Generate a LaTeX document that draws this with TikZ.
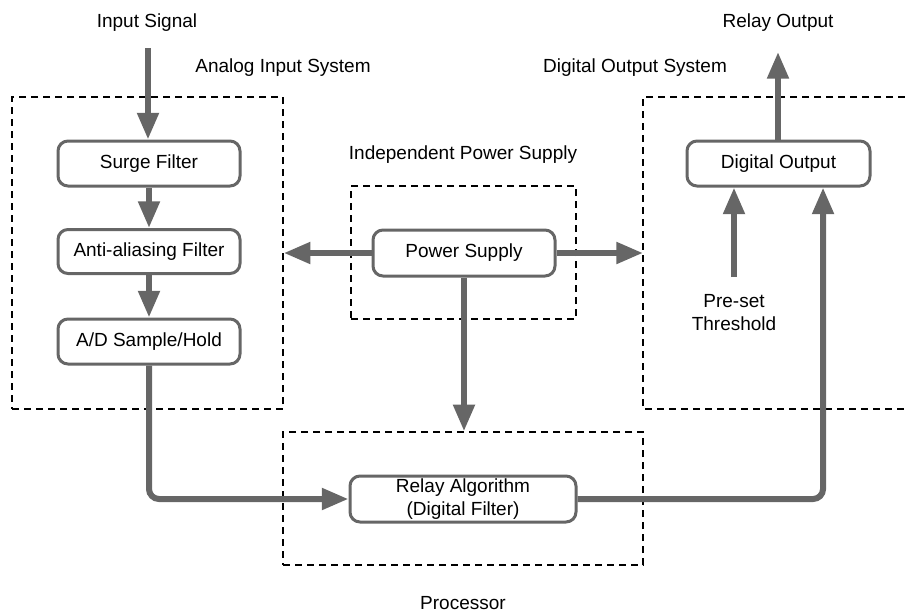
\documentclass[tikz,border=0pt]{standalone}
\usepackage{fontspec}
\setmainfont{Liberation Sans}
\usetikzlibrary{arrows.meta}
\definecolor{arrowgray}{HTML}{666666}
\begin{document}
\begin{tikzpicture}[x=0.75pt,y=-0.75pt,
  font=\fontsize{14.25}{17.25}\selectfont,
  blk/.style={draw=arrowgray, line width=2.25pt, rounded corners=7.5pt, fill=white,
    inner sep=0pt, align=center, minimum width=136.5pt, minimum height=33.75pt},
  dashbox/.style={draw=black, line width=1.1pt, dash pattern=on 5.25pt off 3.75pt,
    inner sep=0pt},
  arr/.style={draw=arrowgray, line width=4.5pt, -{Triangle[length=20pt,width=15.5pt]}},
  lbl/.style={inner sep=0pt, align=center}]
\useasboundingbox (0,0) rectangle (905,614);

% dashed group boxes
\node[dashbox, minimum width=203.25pt, minimum height=234pt] (analog) at (147.5,253) {};
\node[dashbox, minimum width=168.75pt, minimum height=99.75pt] (power) at (463.5,252.5) {};
\node[dashbox, minimum width=270pt, minimum height=99.75pt] (proc) at (463,498.5) {};
\coordinate (digtl) at (643,97);
\coordinate (digbl) at (643,409);
\coordinate (digtr) at (905,97);
\coordinate (digbr) at (905,409);
\draw[line width=1.1pt, dash pattern=on 5.25pt off 3.75pt] (digtr) -- (digtl) -- (digbl) -- (digbr);

% labels
\node[lbl] (insig) at (147,23) {Input Signal};
\node[lbl] (relout) at (778,23) {Relay Output};
\node[lbl] (anlbl) at (283,68) {Analog Input System};
\node[lbl] (dglbl) at (635,68) {Digital Output System};
\node[lbl] (pwlbl) at (463,155) {Independent Power Supply};
\node[lbl] (prlbl) at (463,603) {Processor};
\node[lbl] (pre) at (734,313) {Pre-set\\Threshold};

% blocks
\node[blk] (surge) at (149,163.5) {Surge Filter};
\node[blk, minimum height=33pt] (anti) at (149,251.5) {Anti-aliasing Filter};
\node[blk] (ad) at (149,341.5) {A/D Sample/Hold};
\node[blk, minimum height=34.5pt] (ps) at (464,253) {Power Supply};
\node[blk, minimum width=169.5pt, minimum height=34.5pt] (relay) at (463,499) {Relay Algorithm\\(Digital Filter)};
\node[blk, minimum width=137.25pt] (do) at (778.5,163.5) {Digital Output};

% connectors
\coordinate (in0) at (148,48);
\coordinate (out0) at (778,52);
\coordinate (th0) at (734,277);
\draw[arr] (in0) -- (in0 |- surge.north);
\draw[arr] (surge.south) -- (anti.north);
\draw[arr] (anti.south) -- (ad.north);
\draw[arr] (ps.west) -- (ps.west -| analog.east);
\draw[arr] (ps.east) -- (ps.east -| digtl);
\draw[arr] (ps.south) -- (ps.south |- proc.north);
\draw[arr, rounded corners=7.5pt] (ad.south) |- (relay.west);
\draw[arr, rounded corners=7.5pt] (relay.east) -| ([xshift=33.4pt]do.south);
\draw[arr] (th0) -- (th0 |- do.south);
\draw[arr] (do.north -| out0) -- (out0);
\end{tikzpicture}
\end{document}
